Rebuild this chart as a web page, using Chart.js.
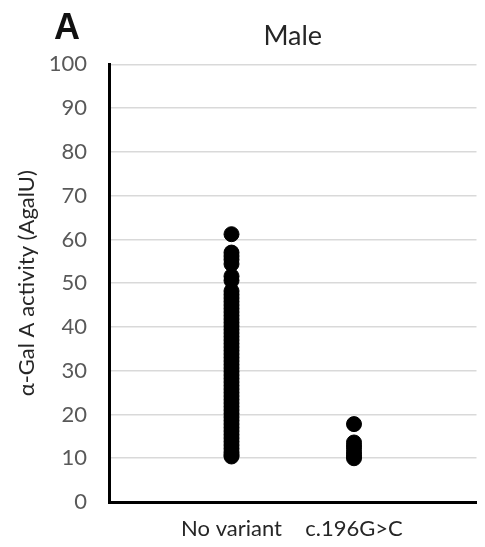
<!DOCTYPE html>
<html>
<head>
<meta charset="utf-8">
<script src="https://cdn.jsdelivr.net/npm/chart.js@4"></script>
<style>
  html, body { margin: 0; padding: 0; background: #fff; overflow: hidden; }
  #wrap { width: 485px; height: 547px; }
</style>
</head>
<body>
<div id="wrap"><canvas id="chart"></canvas></div>
<script>
// categories on the x axis
const categories = ["No variant", "c.196G>C"];

// alpha-Gal A activity (AgalU)
const noVariant = [61.2, 57.0, 56.2, 55.4, 54.4, 51.6, 50.6, 48.2, 47.4, 46.6, 45.8, 45.0, 44.2,
  43.4, 42.6, 41.8, 41.0, 40.2, 39.4, 38.6, 37.8, 37.0, 36.2, 35.4, 34.6, 33.8, 33.0, 32.2,
  31.4, 30.6, 29.8, 29.0, 28.2, 27.4, 26.6, 25.8, 25.0, 24.2, 23.4, 22.6, 21.8, 21.0, 20.2,
  19.4, 18.6, 17.8, 17.0, 16.2, 15.4, 14.6, 13.8, 13.0, 12.2, 11.4, 10.8, 10.4];
const c196GC = [17.8, 13.6, 12.8, 12.0, 11.2, 10.5, 10.0];

const yTicks = { min: 0, max: 100, step: 10 };
const yTitle = "\u03b1-Gal A activity (AgalU)";
const chartTitle = "Male";
const panelLabel = "A";

const FONT = "Lato, 'Liberation Sans', sans-serif";

// panel letter in the top left corner
const panelLetter = {
  id: "panelLetter",
  afterDraw(chart) {
    const c = chart.ctx;
    c.save();
    c.font = "bold 36px 'Liberation Sans', Arial, sans-serif";
    c.fillStyle = "#111";
    c.textBaseline = "alphabetic";
    c.fillText(panelLabel, 54, 39);
    c.restore();
  }
};

const ctx = document.getElementById("chart").getContext("2d");

const chart = new Chart(ctx, {
  type: "scatter",
  data: {
    datasets: [
      {
        label: categories[0],
        data: noVariant.map(v => ({ x: 1, y: v })),
        backgroundColor: "#000",
        borderColor: "#000",
        pointRadius: 7.5,
        pointHoverRadius: 7.5
      },
      {
        label: categories[1],
        data: c196GC.map(v => ({ x: 2, y: v })),
        backgroundColor: "#000",
        borderColor: "#000",
        pointRadius: 7.5,
        pointHoverRadius: 7.5
      }
    ]
  },
  options: {
    responsive: true,
    maintainAspectRatio: false,
    animation: false,
    layout: { padding: { left: 8, right: 3, top: 0, bottom: 0 } },
    plugins: {
      legend: { display: false },
      tooltip: { enabled: false },
      title: {
        display: true,
        fullSize: false,
        text: chartTitle,
        color: "#262626",
        font: { family: FONT, size: 27, weight: "normal" },
        padding: { top: 20, bottom: 12 }
      }
    },
    scales: {
      x: {
        type: "linear",
        min: 0,
        max: categories.length + 1,
        afterBuildTicks: (scale) => {
          scale.ticks = categories.map((c, i) => ({ value: i + 1 }));
        },
        ticks: {
          color: "#262626",
          font: { family: FONT, size: 22 },
          padding: 14,
          maxRotation: 0,
          callback: (v) => categories[v - 1]
        },
        grid: { display: false, drawTicks: false },
        border: { color: "#000", width: 3 },
        afterFit: (scale) => { scale.height = 45; }
      },
      y: {
        min: yTicks.min,
        max: yTicks.max,
        ticks: {
          stepSize: yTicks.step,
          color: "#595959",
          font: { family: FONT, size: 22 },
          padding: 22
        },
        grid: { color: "#d9d9d9", lineWidth: 1.5, drawTicks: false },
        border: { color: "#000", width: 3 },
        title: {
          display: true,
          text: yTitle,
          color: "#262626",
          font: { family: FONT, size: 22 },
          padding: { top: 6, bottom: 4 }
        },
        afterFit: (scale) => { scale.width = 101; }
      }
    }
  },
  plugins: [panelLetter]
});
</script>
</body>
</html>
